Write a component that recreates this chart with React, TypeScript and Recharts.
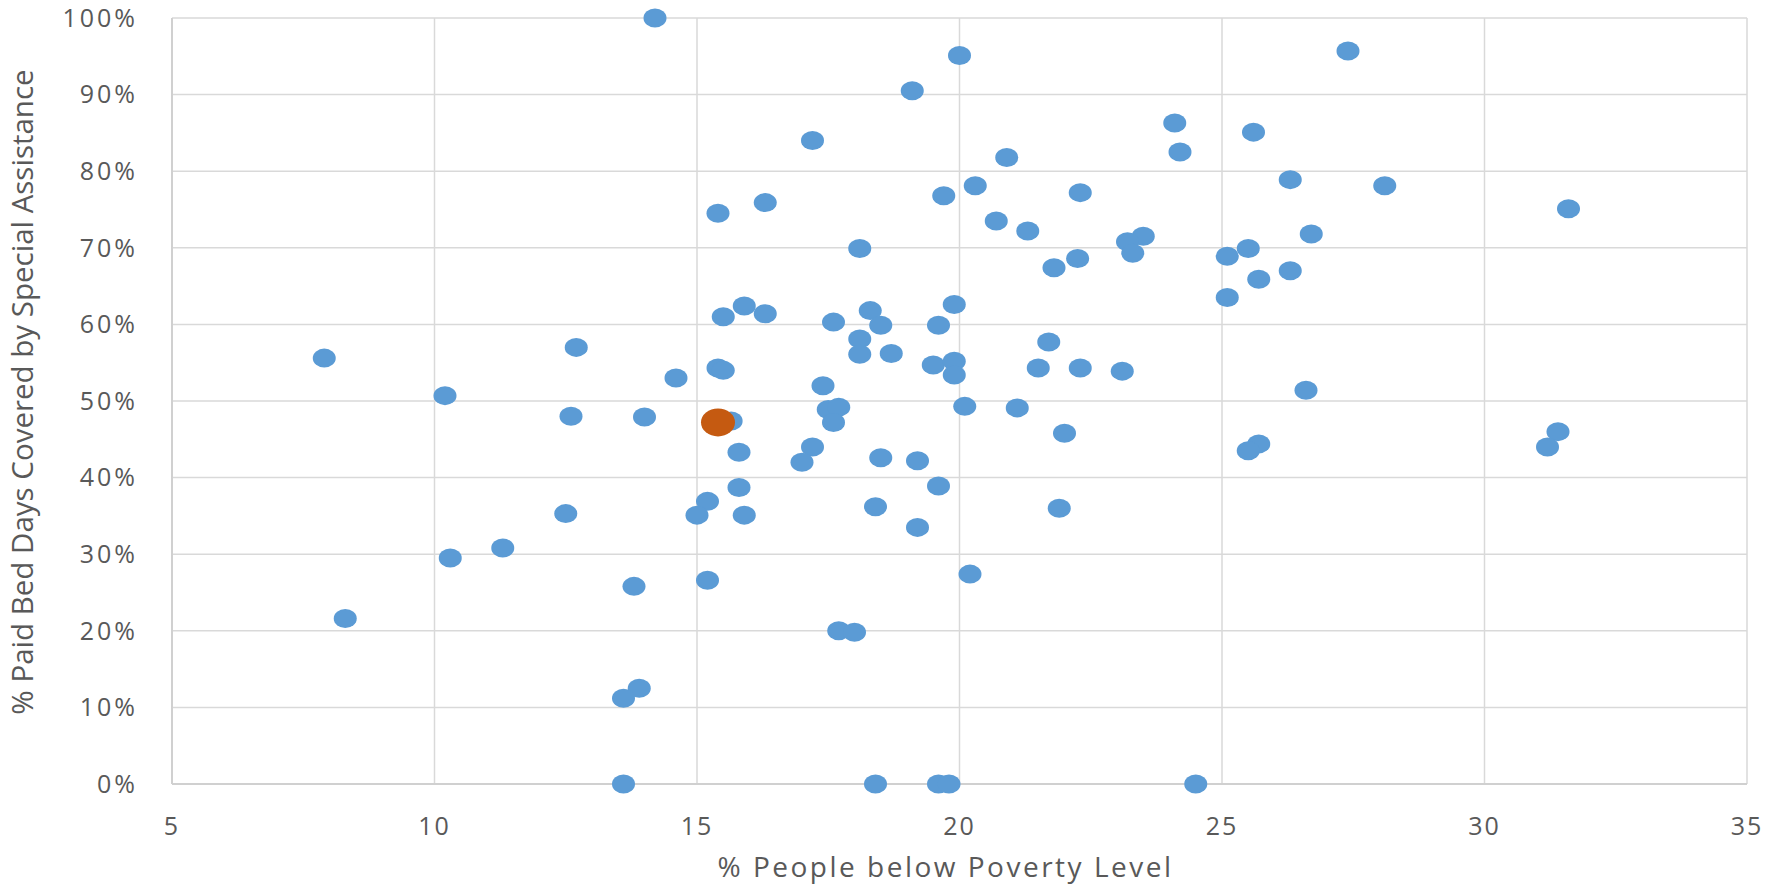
import React from 'react'
import {
  ScatterChart,
  Scatter,
  XAxis,
  YAxis,
  CartesianGrid,
  Label,
} from 'recharts'

// % people below poverty level (x) and % paid bed days covered (y), one entry per county
const povertyPct = [
  7.9, 10.2, 12.7, 12.6, 14.2, 20.0, 19.1, 17.2, 20.9, 20.3, 19.7, 22.3, 16.3, 15.4,
  20.7, 21.3, 23.5, 23.2, 23.3, 18.1, 22.25, 21.8, 19.9, 15.9, 15.5, 16.3, 17.6, 18.3,
  18.5, 19.6, 21.7, 18.1, 18.1, 18.7, 19.5, 19.9, 19.9, 21.5, 22.3, 23.1, 14.6, 15.4,
  15.5, 17.4, 20.1, 21.1, 22.0, 17.5, 17.7, 17.6, 14.0, 15.65, 27.4, 24.1, 25.6, 24.2,
  26.3, 28.1, 31.6, 26.7, 25.5, 25.1, 26.3, 25.7, 25.1, 26.6, 25.7, 25.5, 31.4, 31.2,
  24.5, 12.5, 11.3, 10.3, 8.3, 15.8, 17.2, 17.0, 18.5, 19.2, 15.8, 19.6, 15.2, 15.0,
  15.9, 18.4, 21.9, 19.2, 13.8, 15.2, 20.2, 17.7, 18.0, 13.9, 13.6, 13.6, 18.4, 19.6,
  19.8,
]
const paidBedDaysPct = [
  55.6, 50.7, 57.0, 48.0, 100, 95.1, 90.5, 84.0, 81.8, 78.1, 76.8, 77.2, 75.9, 74.5,
  73.5, 72.2, 71.5, 70.8, 69.3, 69.9, 68.6, 67.4, 62.6, 62.4, 61.0, 61.4, 60.3, 61.8,
  59.9, 59.9, 57.7, 58.1, 56.1, 56.2, 54.7, 55.2, 53.4, 54.3, 54.3, 53.9, 53.0, 54.3,
  54.0, 52.0, 49.3, 49.1, 45.8, 48.9, 49.2, 47.2, 47.9, 47.4, 95.7, 86.3, 85.1, 82.5,
  78.9, 78.1, 75.1, 71.8, 69.9, 68.9, 67.0, 65.9, 63.5, 51.4, 44.4, 43.5, 46.0, 44.0,
  0, 35.3, 30.8, 29.5, 21.6, 43.3, 44.0, 42.0, 42.6, 42.2, 38.7, 38.9, 36.9, 35.1,
  35.1, 36.2, 36.0, 33.5, 25.8, 26.6, 27.4, 20.0, 19.8, 12.5, 11.2, 0, 0, 0,
  0,
]

// highlighted county
const highlightPoverty = [15.4]
const highlightPaid = [47.2]

const xTicks = [5, 10, 15, 20, 25, 30, 35]
const yTicks = [0, 10, 20, 30, 40, 50, 60, 70, 80, 90, 100]

const points = povertyPct.map((x, i) => ({ x, y: paidBedDaysPct[i] }))
const highlight = highlightPoverty.map((x, i) => ({ x, y: highlightPaid[i] }))

const FONT = '"Open Sans", sans-serif'
const TEXT = '#595959'

const blueDot = (p: any) => (
  <ellipse cx={p.cx} cy={p.cy} rx={11.5} ry={9.5} fill="#5B9BD5" />
)
const orangeDot = (p: any) => (
  <ellipse cx={p.cx} cy={p.cy} rx={17} ry={14} fill="#C55A11" />
)

export default function App() {
  return (
    <div style={{ position: 'absolute', left: 0, top: 0, background: '#fff' }}>
      <ScatterChart
        width={1772}
        height={886}
        margin={{ top: 18, right: 25, bottom: 0, left: 0 }}
      >
        <CartesianGrid stroke="#d9d9d9" strokeWidth={1.5} />
        <XAxis
          type="number"
          dataKey="x"
          domain={[5, 35]}
          ticks={xTicks}
          interval={0}
          height={102}
          tickLine={false}
          tickSize={0}
          tickMargin={33}
          axisLine={{ stroke: '#d0d0d0', strokeWidth: 2 }}
          tick={{ fill: TEXT, fontSize: 25, fontFamily: FONT, letterSpacing: 2 }}
        >
          <Label
            value="% People below Poverty Level"
            position="insideBottom"
            offset={9}
            dx={-14}
            style={{ fill: TEXT, fontSize: 28, fontFamily: FONT, letterSpacing: 2.5 }}
          />
        </XAxis>
        <YAxis
          type="number"
          dataKey="y"
          domain={[0, 100]}
          ticks={yTicks}
          interval={0}
          width={172}
          tickLine={false}
          tickSize={0}
          tickMargin={34}
          axisLine={{ stroke: '#d0d0d0', strokeWidth: 2 }}
          tickFormatter={(v: number) => `${v}%`}
          tick={{ fill: TEXT, fontSize: 25, fontFamily: FONT, letterSpacing: 3 }}
        >
          <Label
            value="% Paid Bed Days Covered by Special Assistance"
            angle={-90}
            position="insideLeft"
            offset={0}
            dx={23}
            dy={-9}
            style={{ fill: TEXT, fontSize: 29.5, fontFamily: FONT, textAnchor: 'middle' }}
          />
        </YAxis>
        <Scatter data={points} shape={blueDot} isAnimationActive={false} />
        <Scatter data={highlight} shape={orangeDot} isAnimationActive={false} />
      </ScatterChart>
    </div>
  )
}
